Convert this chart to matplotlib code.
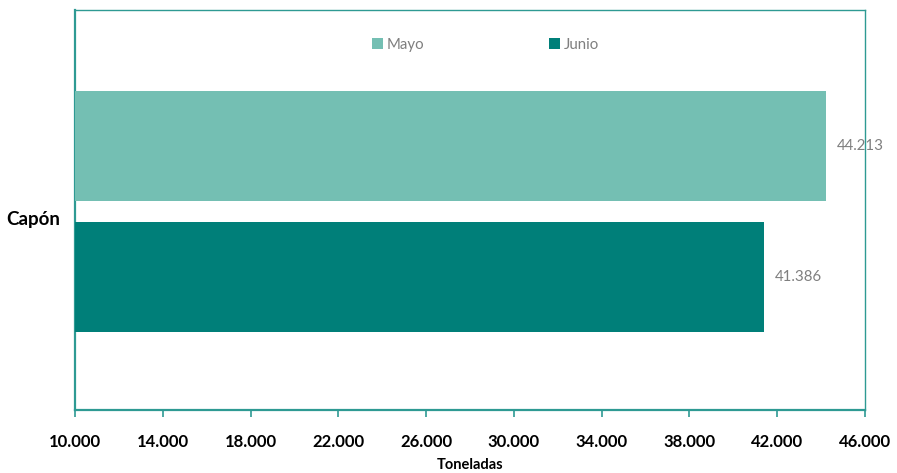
import matplotlib
matplotlib.use("Agg")
import matplotlib.pyplot as plt
from matplotlib.ticker import FuncFormatter

plt.rcParams['font.family'] = ['Lato', 'DejaVu Sans']

# data
category = "Capón"
series = ["Mayo", "Junio"]
values = [44213, 41386]
colors = ["#74BFB3", "#007F79"]
xticks = [10000, 14000, 18000, 22000, 26000, 30000, 34000, 38000, 42000, 46000]

TEAL = "#2E9A93"


def miles(v, pos=None):
    return f"{int(round(v)):,}".replace(",", ".")


fig = plt.figure(figsize=(8.97, 4.73), dpi=100)
ax = fig.add_axes([75 / 897, 1 - 410 / 473, 790 / 897, 400 / 473])

h = 1.0
offsets = [0.5 * h + 0.095, -(0.5 * h + 0.095)]
for name, val, col, off in zip(series, values, colors, offsets):
    ax.barh(off, val - xticks[0], left=xticks[0], height=h, color=col,
            label=name, zorder=3)
    ax.text(val + 500, off, miles(val), va="center", ha="left",
            fontsize=10.8, color="#7F7F7F", zorder=5, clip_on=False)

ax.set_xlim(xticks[0], xticks[-1])
ax.set_ylim(-1.807, 1.83)
ax.set_xticks(xticks)
ax.xaxis.set_major_formatter(FuncFormatter(miles))
ax.set_yticks([-0.06])
ax.set_yticklabels([category])

for lbl in ax.get_xticklabels():
    lbl.set_fontweight("bold")
    lbl.set_fontsize(12)
for lbl in ax.get_yticklabels():
    lbl.set_fontweight("bold")
    lbl.set_fontsize(13.5)

ax.tick_params(axis="x", direction="out", length=5, width=1.2, color=TEAL,
               pad=12)
ax.tick_params(axis="y", length=0, pad=11)

for side in ["top", "right"]:
    ax.spines[side].set_color(TEAL)
    ax.spines[side].set_linewidth(1.0)
for side in ["left", "bottom"]:
    ax.spines[side].set_color(TEAL)
    ax.spines[side].set_linewidth(1.6)
ax.spines["right"].set_zorder(4)

ax.set_xlabel("Toneladas", fontsize=10.5, fontweight="bold", labelpad=6)

leg = ax.legend(loc="center", bbox_to_anchor=(0.52, 0.913), ncol=2,
                frameon=False, fontsize=10.8, handlelength=0.7,
                handleheight=0.7, handletextpad=0.3, columnspacing=8.3)
for t in leg.get_texts():
    t.set_color("#7F7F7F")

fig.savefig("out.png", dpi=100)
